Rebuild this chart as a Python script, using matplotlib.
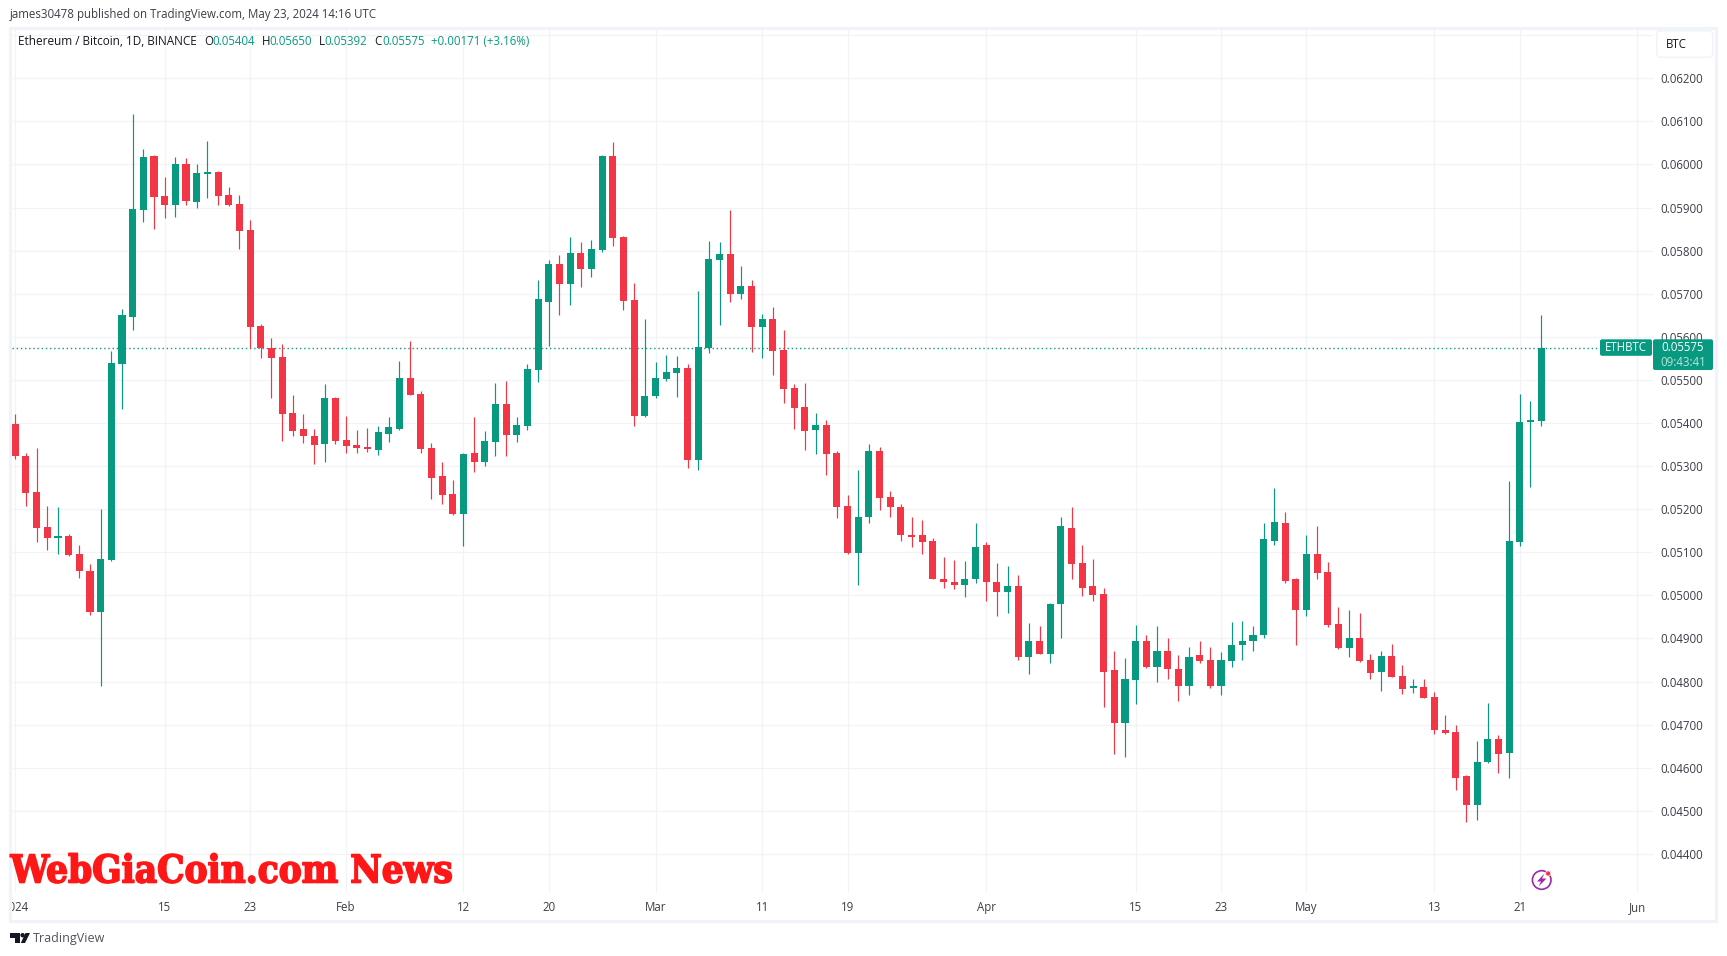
import matplotlib
matplotlib.use("Agg")
import matplotlib.pyplot as plt
import matplotlib.dates as mdates
import matplotlib.patheffects as pe
from matplotlib.patches import Rectangle, FancyBboxPatch, Polygon, Circle
from matplotlib.transforms import Bbox
from matplotlib import font_manager as fm
import pandas as pd
import numpy as np

dates = pd.date_range("2024-01-01", periods=144, freq="D")

opens = [
 .05398,.05324,.05240,.05159,.05133,.05138,.05096,.05057,.04961,.05082,.05538,.05647,.05894,.06019,.05926,.05905,
 .06001,.05912,.05978,.05982,.05929,.05908,.05847,.05624,.05575,.05554,.05424,.05387,.05371,.05352,.05457,
 .05361,.05350,.05345,.05338,.05375,.05387,.05505,.05468,.05343,.05278,.05236,.05189,.05331,.05310,.05357,.05443,
 .05373,.05394,.05524,.05682,.05768,.05722,.05794,.05757,.05801,.06019,.05832,.05685,.05417,
 .05463,.05502,.05516,.05528,.05315,.05574,.05778,.05792,.05699,.05718,.05623,.05641,.05570,.05481,.05437,.05384,
 .05396,.05331,.05208,.05099,.05181,.05334,.05229,.05206,.05141,.05139,.05127,.05039,.05032,.05023,.05037,
 .05116,.05032,.05007,.05021,.04858,.04893,.04865,.04979,.05157,.05074,.05021,.05004,.04826,.04703,.04803,
 .04893,.04833,.04872,.04828,.04789,.04861,.04849,.04789,.04847,.04884,.04893,.04909,.05127,.05169,.05039,
 .04967,.05095,.05055,.04934,.04877,.04900,.04849,.04823,.04860,.04814,.04786,.04788,.04765,.04688,.04682,
 .04580,.04513,.04613,.04667,.04634,.05125,.05403,.05404]
highs = [
 .05422,.05331,.05343,.05208,.05205,.05143,.05117,.05073,.05201,.05566,.05665,.06117,.06036,.06022,.05971,.06017,
 .06015,.06001,.06054,.05984,.05947,.05929,.05871,.05630,.05598,.05584,.05464,.05422,.05387,.05491,.05461,
 .05417,.05384,.05389,.05394,.05415,.05543,.05591,.05475,.05354,.05310,.05268,.05331,.05415,.05382,.05494,.05498,
 .05415,.05536,.05731,.05778,.05789,.05831,.05819,.05824,.06021,.06052,.05834,.05725,.05642,
 .05542,.05558,.05556,.05537,.05706,.05822,.05820,.05894,.05764,.05732,.05653,.05669,.05615,.05491,.05493,.05423,
 .05407,.05335,.05232,.05292,.05352,.05345,.05243,.05213,.05181,.05176,.05134,.05088,.05081,.05079,.05167,
 .05125,.05076,.05069,.05048,.04937,.04930,.04983,.05183,.05206,.05118,.05085,.05016,.04872,.04854,.04932,
 .04909,.04930,.04900,.04861,.04881,.04895,.04881,.04868,.04939,.04941,.04928,.05167,.05250,.05194,.05040,
 .05141,.05162,.05078,.04972,.04965,.04958,.04865,.04870,.04888,.04839,.04807,.04805,.04775,.04723,.04700,
 .04584,.04661,.04751,.04677,.05266,.05468,.05450,.05650]
lows = [
 .05317,.05208,.05124,.05105,.05096,.05092,.05040,.04954,.04789,.05080,.05433,.05615,.05866,.05850,.05875,.05878,
 .05905,.05898,.05922,.05905,.05903,.05805,.05573,.05552,.05459,.05359,.05371,.05354,.05305,.05310,.05352,
 .05331,.05331,.05333,.05326,.05357,.05384,.05464,.05331,.05224,.05212,.05187,.05115,.05287,.05301,.05324,.05324,
 .05357,.05384,.05496,.05578,.05650,.05673,.05715,.05738,.05797,.05811,.05662,.05393,.05415,
 .05458,.05498,.05461,.05296,.05291,.05563,.05628,.05681,.05688,.05565,.05551,.05512,.05446,.05386,.05338,.05328,
 .05280,.05180,.05097,.05023,.05169,.05199,.05181,.05127,.05113,.05097,.05038,.05016,.05014,.04997,.05028,
 .04986,.04953,.04960,.04851,.04817,.04864,.04842,.04900,.05037,.04999,.04986,.04740,.04631,.04624,.04747,
 .04832,.04800,.04807,.04756,.04768,.04842,.04784,.04768,.04833,.04851,.04870,.04900,.05116,.05028,.04884,
 .04951,.05039,.04926,.04876,.04858,.04846,.04807,.04778,.04810,.04770,.04773,.04762,.04678,.04679,.04549,
 .04473,.04478,.04610,.04587,.04576,.05114,.05251,.05392]
closes = [
 .05324,.05238,.05157,.05133,.05138,.05094,.05057,.04961,.05084,.05540,.05650,.05896,.06017,.05924,.05905,.06001,
 .05915,.05980,.05982,.05926,.05905,.05845,.05622,.05573,.05552,.05422,.05382,.05371,.05350,.05459,.05359,
 .05347,.05343,.05340,.05380,.05391,.05505,.05466,.05340,.05273,.05233,.05189,.05329,.05310,.05359,.05443,.05373,
 .05396,.05526,.05687,.05768,.05722,.05794,.05757,.05803,.06019,.05829,.05683,.05417,.05463,
 .05505,.05519,.05528,.05315,.05577,.05781,.05792,.05699,.05718,.05623,.05641,.05567,.05479,.05435,.05382,.05396,
 .05328,.05206,.05099,.05183,.05334,.05227,.05204,.05139,.05136,.05125,.05039,.05030,.05023,.05039,.05113,
 .05030,.05007,.05021,.04856,.04893,.04865,.04981,.05160,.05072,.05018,.05002,.04823,.04703,.04805,.04893,
 .04833,.04872,.04828,.04789,.04858,.04847,.04789,.04849,.04886,.04893,.04909,.05130,.05171,.05034,.04967,
 .05095,.05053,.04932,.04877,.04900,.04847,.04821,.04860,.04811,.04783,.04788,.04763,.04687,.04680,.04577,
 .04513,.04614,.04667,.04631,.05127,.05403,.05405,.05575]

price_ticks = [.044,.045,.046,.047,.048,.049,.050,.051,.052,.053,.054,.055,.056,.057,.058,.059,.060,.061,.062,.063]
price_labels = ["0.04400","0.04500","0.04600","0.04700","0.04800","0.04900","0.05000","0.05100","0.05200",
                "0.05300","0.05400","0.05500","0.05600","0.05700","0.05800","0.05900","0.06000","0.06100","0.06200",""]
time_ticks = ["2024-01-01","2024-01-15","2024-01-23","2024-02-01","2024-02-12","2024-02-20","2024-03-01","2024-03-11",
              "2024-03-19","2024-04-01","2024-04-15","2024-04-23","2024-05-01","2024-05-13","2024-05-21","2024-06-01"]
time_labels = ["2024","15","23","Feb","12","20","Mar","11","19","Apr","15","23","May","13","21","Jun"]
last_price = 0.05575

W, H = 1727, 956
GREEN, RED, GRID, BORDER, TXT = "#089981", "#f23645", "#f2f3f6", "#f0f3fa", "#3b3e47"
FONT = ["Open Sans", "DejaVu Sans"]
plt.rcParams["font.family"] = FONT
FS = 8.3

fig = plt.figure(figsize=(W/100, H/100), dpi=100, facecolor="white")
L, R, T, B = 12, 1653, 29, 893
ax = fig.add_axes([L/W, 1-B/H, (R-L)/W, (B-T)/H])
for s in ax.spines.values():
    s.set_visible(False)

t0 = mdates.date2num(dates[0])
PX_DAY = 10.67
ax.set_xlim(t0+(L-15.3)/PX_DAY, t0+(R-15.3)/PX_DAY)
PX_UNIT = 43090.0
ax.set_ylim(0.062-(B-78.3)/PX_UNIT, 0.062+(78.3-T)/PX_UNIT)

x = mdates.date2num(dates)
o, h, l, c = map(np.array, (opens, highs, lows, closes))
cols = [GREEN if cc >= oo else RED for oo, cc in zip(o, c)]
ax.vlines(x, l, h, colors=cols, linewidth=0.85, zorder=3)
ax.bar(x, np.maximum(np.abs(c-o), 0.00003), bottom=np.minimum(o, c), width=0.66, color=cols, linewidth=0, zorder=4)

ax.set_xticks(mdates.date2num(pd.to_datetime(time_ticks)))
ax.set_xticklabels(time_labels)
ax.set_yticks(price_ticks)
ax.set_yticklabels(price_labels)
ax.yaxis.tick_right()
ax.tick_params(axis="both", length=0, labelsize=FS, labelcolor=TXT)
ax.tick_params(axis="x", pad=5.5)
ax.tick_params(axis="y", pad=5.6)
ax.grid(True, color=GRID, linewidth=0.85, zorder=0)
ax.set_axisbelow(True)
ax.plot([ax.get_xlim()[0], t0+(1600-15.3)/PX_DAY], [last_price, last_price], color=GREEN, linewidth=1.0,
        linestyle=(0, (1.0, 2.0)), dash_capstyle="butt", zorder=2)
clip = Bbox.from_extents(12, 0, W, H)
for lab in ax.get_xticklabels():
    lab.set_clip_box(clip)
    lab.set_clip_on(True)

ov = fig.add_axes([0, 0, 1, 1], zorder=10)
ov.set_xlim(0, W)
ov.set_ylim(H, 0)
ov.axis("off")
ov.patch.set_alpha(0)

ov.add_patch(Rectangle((10.5, 28), 1705.5, 892.5, fill=False, ec=BORDER, lw=2.2))

ov.text(10, 14.7, "james30478 published on TradingView.com, May 23, 2024 14:16 UTC", fontsize=FS, color=TXT, va="center", ha="left")
ov.text(18.4, 41.7, "Ethereum / Bitcoin, 1D, BINANCE", fontsize=8.5, color="#131722", va="center", ha="left")
for xp, s, col in [(204, "O", "#131722"), (212.4, "0.05404", GREEN), (261.8, "H", "#131722"), (269.8, "0.05650", GREEN),
                   (319, "L", "#131722"), (324.5, "0.05392", GREEN), (374, "C", "#131722"), (382, "0.05575", GREEN),
                   (431, "+0.00171 (+3.16%)", GREEN)]:
    ov.text(xp, 41.7, s, fontsize=FS, color=col, va="center", ha="left")

ov.add_patch(FancyBboxPatch((1658.7, 32.7), 52, 22.6, boxstyle="round,pad=2,rounding_size=4", fc="white", ec=BORDER, lw=1.1))
ov.text(1666, 44.3, "BTC", fontsize=FS, color="#131722", va="center", ha="left")

ov.add_patch(FancyBboxPatch((1601, 340.3), 50, 14.5, boxstyle="round,pad=1,rounding_size=2", fc=GREEN, ec="none"))
ov.add_patch(FancyBboxPatch((1654, 340.3), 58, 28.7, boxstyle="round,pad=1,rounding_size=2", fc=GREEN, ec="none"))
ov.text(1626, 347.8, "ETHBTC", fontsize=FS, color="white", va="center", ha="center")
ov.text(1683, 347.5, "0.05575", fontsize=FS, color="white", va="center", ha="center", fontweight="medium")
ov.text(1683, 362, "09:43:41", fontsize=FS, color="#b9e2da", va="center", ha="center")

wm_font = fm.FontProperties(family="DejaVu Serif", weight="bold", stretch="condensed", size=27.6)
ov.text(10.5, 872, "WebGiaCoin.com News", fontproperties=wm_font, color="#ff1616", va="center", ha="left",
        path_effects=[pe.withStroke(linewidth=1.2, foreground="#ff1616")])

ov.add_patch(Polygon([(10, 933), (20, 933), (20, 943), (15, 943), (15, 937.5), (10, 937.5)], fc="#131722", ec="none"))
ov.add_patch(Circle((22.6, 935.2), 2.2, fc="#131722", ec="none"))
ov.add_patch(Polygon([(25.5, 933), (30, 933), (25, 943), (20.8, 943)], fc="#131722", ec="none"))
ov.text(33, 938.8, "TradingView", fontsize=9.0, color="#50535e", va="center", ha="left")

ov.add_patch(Circle((1541.7, 880), 9.3, fc="none", ec="#9c27b0", lw=1.2))
ov.add_patch(Polygon([(1544.5, 873.5), (1537, 881.5), (1541, 881.5), (1538.5, 886.5), (1546.5, 878.5), (1542, 878.5)], fc="#9c27b0", ec="none"))
ov.add_patch(Circle((1548.2, 873.5), 2.6, fc="#f23645", ec="white", lw=0.5))

fig.savefig("out.png", dpi=100, facecolor="white")
